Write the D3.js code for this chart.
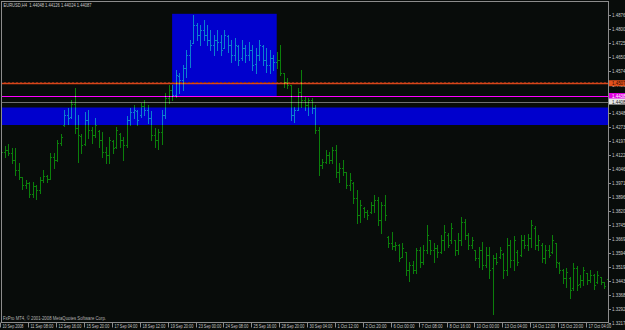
<!DOCTYPE html>
<html>
<head>
<meta charset="utf-8">
<script src="https://cdn.jsdelivr.net/npm/d3@7"></script>
<style>
  body { margin: 0; background: #080c0a; }
  svg { display: block; }
  text { font-family: "Liberation Sans", Arial, sans-serif; }
</style>
</head>
<body>
<svg id="chart" width="625" height="330"></svg>
<script>
// EURUSD H4 bars, 10 Sep 2008 .. 17 Oct 2008
var highs = [1.4153,1.4169,1.4180,1.4158,1.4158,1.4077,1.4002,1.3986,1.3975,1.3975,
  1.3959,1.4002,1.4040,1.4013,1.4131,1.4131,1.4201,1.4234,1.4363,1.4374,
  1.4417,1.4482,1.4336,1.4234,1.4352,1.4363,1.4271,1.4320,1.4255,1.4245,
  1.4164,1.4218,1.4201,1.4271,1.4239,1.4218,1.4331,1.4374,1.4390,1.4363,
  1.4401,1.4417,1.4390,1.4358,1.4266,1.4261,1.4363,1.4455,1.4498,1.4498,
  1.4579,1.4563,1.4606,1.4687,1.4740,1.4875,1.4832,1.4821,1.4848,1.4821,
  1.4794,1.4767,1.4794,1.4767,1.4794,1.4767,1.4740,1.4751,1.4713,1.4740,
  1.4713,1.4730,1.4713,1.4697,1.4740,1.4713,1.4697,1.4687,1.4660,1.4676,
  1.4713,1.4563,1.4536,1.4498,1.4379,1.4482,1.4579,1.4433,1.4428,1.4428,
  1.4390,1.4271,1.4099,1.4148,1.4137,1.4164,1.4175,1.4077,1.4094,1.4029,
  1.4024,1.3975,1.3932,1.3878,1.3840,1.3824,1.3867,1.3905,1.3894,1.3867,
  1.3905,1.3684,1.3706,1.3652,1.3641,1.3646,1.3598,1.3544,1.3549,1.3619,
  1.3625,1.3635,1.3743,1.3662,1.3646,1.3635,1.3689,1.3743,1.3700,1.3754,
  1.3662,1.3700,1.3786,1.3776,1.3700,1.3679,1.3609,1.3625,1.3652,1.3625,
  1.3625,1.3582,1.3592,1.3625,1.3592,1.3673,1.3662,1.3684,1.3609,1.3689,
  1.3689,1.3695,1.3770,1.3738,1.3689,1.3646,1.3635,1.3635,1.3689,1.3646,
  1.3544,1.3506,1.3511,1.3463,1.3538,1.3522,1.3474,1.3517,1.3485,1.3501,
  1.3479,1.3495,1.3463,1.3436,1.3474];
var lows = [1.4099,1.4110,1.4121,1.4077,1.4013,1.3991,1.3937,1.3943,1.3894,1.3894,
  1.3883,1.3916,1.3975,1.3975,1.3991,1.4051,1.4088,1.4175,1.4277,1.4288,
  1.4320,1.4239,1.4083,1.4131,1.4175,1.4212,1.4185,1.4218,1.4164,1.4110,
  1.4077,1.4077,1.4131,1.4158,1.4164,1.4094,1.4164,1.4282,1.4320,1.4282,
  1.4325,1.4336,1.4293,1.4201,1.4164,1.4153,1.4180,1.4320,1.4401,1.4417,
  1.4433,1.4455,1.4471,1.4541,1.4595,1.4724,1.4740,1.4713,1.4740,1.4713,
  1.4687,1.4660,1.4687,1.4660,1.4697,1.4676,1.4622,1.4633,1.4606,1.4633,
  1.4622,1.4633,1.4579,1.4563,1.4633,1.4606,1.4568,1.4563,1.4579,1.4589,
  1.4552,1.4487,1.4482,1.4309,1.4298,1.4363,1.4379,1.4363,1.4336,1.4347,
  1.4239,1.4013,1.4051,1.4077,1.4077,1.4077,1.4002,1.3975,1.4013,1.3943,
  1.3932,1.3862,1.3754,1.3759,1.3786,1.3776,1.3808,1.3813,1.3743,1.3700,
  1.3770,1.3625,1.3614,1.3609,1.3549,1.3571,1.3474,1.3441,1.3485,1.3485,
  1.3517,1.3533,1.3592,1.3587,1.3544,1.3571,1.3592,1.3609,1.3625,1.3646,
  1.3582,1.3587,1.3635,1.3668,1.3614,1.3619,1.3555,1.3517,1.3506,1.3517,
  1.3458,1.3264,1.3533,1.3565,1.3458,1.3474,1.3517,1.3501,1.3528,1.3576,
  1.3619,1.3609,1.3625,1.3614,1.3609,1.3544,1.3538,1.3571,1.3592,1.3517,
  1.3485,1.3431,1.3409,1.3350,1.3393,1.3393,1.3409,1.3420,1.3425,1.3436,
  1.3398,1.3431,1.3425,1.3404,1.3447];
var opens = [1.4121,1.4137,1.4148,1.4131,1.4094,1.4040,1.4002,1.3959,1.3970,1.3910,
  1.3954,1.3932,1.3986,1.4007,1.3991,1.4110,1.4094,1.4185,1.4282,1.4336,
  1.4325,1.4395,1.4266,1.4223,1.4180,1.4309,1.4255,1.4228,1.4250,1.4201,
  1.4137,1.4121,1.4196,1.4164,1.4234,1.4201,1.4175,1.4309,1.4352,1.4358,
  1.4336,1.4385,1.4363,1.4320,1.4228,1.4201,1.4245,1.4336,1.4428,1.4471,
  1.4444,1.4546,1.4525,1.4589,1.4660,1.4724,1.4821,1.4767,1.4794,1.4767,
  1.4740,1.4713,1.4740,1.4730,1.4697,1.4762,1.4713,1.4660,1.4708,1.4643,
  1.4697,1.4660,1.4687,1.4611,1.4660,1.4708,1.4633,1.4606,1.4643,1.4622,
  1.4633,1.4563,1.4514,1.4498,1.4336,1.4363,1.4460,1.4417,1.4390,1.4417,
  1.4374,1.4255,1.4067,1.4083,1.4121,1.4094,1.4148,1.4029,1.4051,1.4029,
  1.3959,1.3970,1.3889,1.3797,1.3835,1.3813,1.3813,1.3851,1.3878,1.3770,
  1.3851,1.3679,1.3646,1.3630,1.3635,1.3571,1.3598,1.3501,1.3528,1.3501,
  1.3609,1.3544,1.3609,1.3662,1.3609,1.3619,1.3598,1.3662,1.3689,1.3662,
  1.3662,1.3609,1.3662,1.3759,1.3689,1.3635,1.3609,1.3565,1.3609,1.3528,
  1.3582,1.3511,1.3565,1.3571,1.3587,1.3501,1.3635,1.3555,1.3598,1.3582,
  1.3662,1.3635,1.3673,1.3727,1.3635,1.3635,1.3565,1.3609,1.3598,1.3646,
  1.3538,1.3501,1.3458,1.3458,1.3404,1.3511,1.3425,1.3447,1.3485,1.3447,
  1.3474,1.3436,1.3463,1.3436,1.3452];
var closes = [1.4137,1.4148,1.4131,1.4094,1.4040,1.4002,1.3959,1.3970,1.3910,1.3954,
  1.3932,1.3986,1.4007,1.3991,1.4110,1.4094,1.4185,1.4218,1.4336,1.4320,
  1.4395,1.4266,1.4228,1.4175,1.4309,1.4255,1.4228,1.4282,1.4201,1.4137,
  1.4121,1.4201,1.4158,1.4255,1.4201,1.4175,1.4309,1.4352,1.4363,1.4309,
  1.4385,1.4363,1.4320,1.4228,1.4201,1.4245,1.4336,1.4428,1.4471,1.4444,
  1.4552,1.4525,1.4589,1.4660,1.4713,1.4821,1.4767,1.4794,1.4767,1.4740,
  1.4713,1.4740,1.4730,1.4687,1.4767,1.4713,1.4660,1.4713,1.4633,1.4697,
  1.4660,1.4687,1.4606,1.4660,1.4713,1.4633,1.4606,1.4643,1.4622,1.4633,
  1.4563,1.4514,1.4498,1.4336,1.4363,1.4460,1.4417,1.4390,1.4417,1.4374,
  1.4255,1.4067,1.4083,1.4121,1.4094,1.4148,1.4029,1.4051,1.4029,1.3959,
  1.3986,1.3889,1.3797,1.3851,1.3813,1.3797,1.3851,1.3878,1.3770,1.3851,
  1.3797,1.3646,1.3630,1.3635,1.3565,1.3619,1.3501,1.3528,1.3501,1.3609,
  1.3544,1.3609,1.3689,1.3609,1.3619,1.3598,1.3662,1.3706,1.3635,1.3727,
  1.3609,1.3662,1.3759,1.3689,1.3635,1.3662,1.3565,1.3609,1.3528,1.3582,
  1.3501,1.3565,1.3544,1.3609,1.3501,1.3635,1.3555,1.3662,1.3544,1.3662,
  1.3635,1.3673,1.3743,1.3635,1.3662,1.3565,1.3609,1.3582,1.3662,1.3544,
  1.3501,1.3458,1.3490,1.3393,1.3511,1.3420,1.3447,1.3501,1.3447,1.3474,
  1.3420,1.3474,1.3436,1.3414,1.3463];

var timeLabels = ["10 Sep 2008","11 Sep 08:00","12 Sep 16:00","15 Sep 20:00","17 Sep 04:00",
  "18 Sep 12:00","19 Sep 20:00","23 Sep 00:00","24 Sep 08:00","25 Sep 16:00","28 Sep 20:00",
  "30 Sep 04:00","1 Oct 12:00","2 Oct 20:00","6 Oct 00:00","7 Oct 08:00","8 Oct 16:00",
  "10 Oct 00:00","13 Oct 04:00","14 Oct 12:00","15 Oct 20:00","17 Oct 04:00"];
var priceTicks = [1.48762,1.48008,1.47254,1.46500,1.45746,1.44992,1.44238,1.43484,1.42730,
  1.41976,1.41222,1.40468,1.39714,1.38960,1.38206,1.37452,1.36698,1.35944,1.35190,
  1.34436,1.33682,1.32928,1.32174];

var titleText = "EURUSD,H4  1.44048 1.44126 1.44024 1.44087";
var copyText = "FxPro MT4, \u00a9 2001-2008 MetaQuotes Software Corp.";

// chart objects
var levelPrices = [1.45070, 1.44384, 1.44087];
var levelColors = ["#d8461a", "#ff00ff", "#8a8a8a"];
var boxBars = [49, 79];
var boxPrices = [1.48810, 1.44384];
var bandPrices = [1.43764, 1.42822];

var svg = d3.select("#chart");
var W = 625, H = 330;
var padL = 1.5, padT = 1.5, padR = 608.5, padB = 322.5;

var x = d3.scaleLinear().domain([0, highs.length - 1]).range([1.3, 607.9]);
var y = d3.scaleLinear().domain([1.32174, 1.48762]).range([322.7, 14.7]);

svg.append("rect").attr("width", W).attr("height", H).attr("fill", "#080c0a");

var defs = svg.append("defs");
defs.append("clipPath").attr("id", "clip")
  .append("rect").attr("x", padL).attr("y", padT).attr("width", padR - padL).attr("height", padB - padT);
var inner = svg.append("g").attr("clip-path", "url(#clip)");

// blue rectangles
inner.append("rect")
  .attr("x", x(boxBars[0])).attr("width", x(boxBars[1]) - x(boxBars[0]))
  .attr("y", y(boxPrices[0])).attr("height", y(boxPrices[1]) - y(boxPrices[0]))
  .attr("fill", "#0000cd");
inner.append("rect")
  .attr("x", 0).attr("width", W)
  .attr("y", y(bandPrices[0])).attr("height", y(bandPrices[1]) - y(bandPrices[0]))
  .attr("fill", "#0000cd");

// horizontal levels
inner.append("line")
  .attr("x1", 0).attr("x2", W)
  .attr("y1", Math.round(y(levelPrices[0])) - 0.5).attr("y2", Math.round(y(levelPrices[0])) - 0.5)
  .attr("stroke", "#6a2412").attr("stroke-dasharray", "2,2");
inner.selectAll("line.level").data(levelPrices).enter()
  .append("line").attr("class", "level")
  .attr("x1", 0).attr("x2", W)
  .attr("y1", function(d){ return Math.round(y(d)) + 0.5; })
  .attr("y2", function(d){ return Math.round(y(d)) + 0.5; })
  .attr("stroke", function(d, i){ return levelColors[i]; })
  .attr("stroke-width", function(d, i){ return i == 2 ? 0.8 : (i == 0 ? 1.5 : 1.1); });

// OHLC bars
var idx = d3.range(highs.length);
var bars = inner.append("g").style("mix-blend-mode", "screen")
  .attr("stroke", "#0b7f0b").attr("stroke-width", 1).attr("shape-rendering", "crispEdges");
bars.selectAll("line.hl").data(idx).enter().append("line").attr("class", "hl")
  .attr("x1", function(i){ return Math.round(x(i)) + 0.5; })
  .attr("x2", function(i){ return Math.round(x(i)) + 0.5; })
  .attr("y1", function(i){ return y(highs[i]); })
  .attr("y2", function(i){ return y(lows[i]) + 1; });
bars.selectAll("line.op").data(idx).enter().append("line").attr("class", "op")
  .attr("x1", function(i){ return Math.round(x(i)) - 1; })
  .attr("x2", function(i){ return Math.round(x(i)); })
  .attr("y1", function(i){ return Math.round(y(opens[i])) + 0.5; })
  .attr("y2", function(i){ return Math.round(y(opens[i])) + 0.5; });
bars.selectAll("line.cl").data(idx).enter().append("line").attr("class", "cl")
  .attr("x1", function(i){ return Math.round(x(i)) + 1; })
  .attr("x2", function(i){ return Math.round(x(i)) + 2; })
  .attr("y1", function(i){ return Math.round(y(closes[i])) + 0.5; })
  .attr("y2", function(i){ return Math.round(y(closes[i])) + 0.5; });

// frame
svg.append("rect").attr("x", padL).attr("y", padT)
  .attr("width", padR - padL).attr("height", padB - padT)
  .attr("fill", "none").attr("stroke", "#8c8c8c").attr("stroke-width", 1);

// price axis
var pa = svg.append("g");
pa.selectAll("line").data(priceTicks).enter().append("line")
  .attr("x1", padR).attr("x2", padR + 2.5)
  .attr("y1", function(d){ return Math.round(y(d)) + 0.5; })
  .attr("y2", function(d){ return Math.round(y(d)) + 0.5; })
  .attr("stroke", "#8c8c8c");
pa.selectAll("text").data(priceTicks).enter().append("text")
  .attr("x", padR + 3.5).attr("y", function(d){ return y(d) + 2; })
  .attr("font-size", 5.5).attr("fill", "#c8c8c8")
  .attr("textLength", 16).attr("lengthAdjust", "spacingAndGlyphs")
  .text(function(d){ return d.toFixed(5); });

// level labels on price axis
var boxFill = ["#e2501c", "#e000e0", "#e6e6e6"];
var boxText = ["#2a0a00", "#ffffff", "#202020"];
var lab = svg.append("g");
levelPrices.forEach(function(p, i){
  var yy = y(p);
  lab.append("rect").attr("x", padR + 0.5).attr("y", yy - 3).attr("width", 20).attr("height", 6)
    .attr("fill", boxFill[i]);
  lab.append("text").attr("x", padR + 3.5).attr("y", yy + 2)
    .attr("font-size", 5.5).attr("fill", boxText[i])
    .attr("textLength", 16).attr("lengthAdjust", "spacingAndGlyphs")
    .text(p.toFixed(5));
});

// time axis
var ta = svg.append("g");
timeLabels.forEach(function(t, k){
  var xx = Math.round(x(k * 8)) - 0.5;
  ta.append("line").attr("x1", xx).attr("x2", xx).attr("y1", padB).attr("y2", padB + 5)
    .attr("stroke", "#8c8c8c");
  ta.append("text").attr("x", xx + 2).attr("y", 328.3)
    .attr("font-size", 5.5).attr("fill", "#c8c8c8")
    .attr("textLength", t.length * 1.9).attr("lengthAdjust", "spacingAndGlyphs")
    .text(t);
});

svg.append("text").attr("x", 3.5).attr("y", 7.3).attr("font-size", 5.6)
  .attr("fill", "#c8c8c8").attr("xml:space", "preserve")
  .attr("textLength", 88).attr("lengthAdjust", "spacingAndGlyphs").text(titleText);
svg.append("text").attr("x", 3).attr("y", 320).attr("font-size", 5.6)
  .attr("fill", "#b4b4b4")
  .attr("textLength", 103).attr("lengthAdjust", "spacingAndGlyphs").text(copyText);
</script>
</body>
</html>
